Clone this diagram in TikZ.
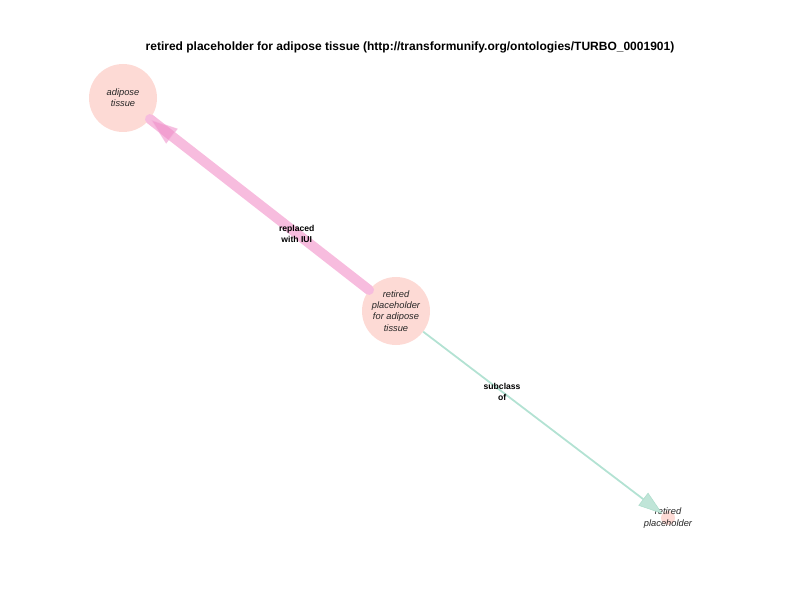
\documentclass[tikz,border=0pt]{standalone}
\usepackage{fontspec}
\setmainfont{Liberation Sans}
\usepackage{tikz}
\usetikzlibrary{arrows.meta,decorations.markings}
\definecolor{nodepink}{HTML}{FDDAD5}
\definecolor{replpink}{HTML}{F7BCDE}
\definecolor{arrpink}{HTML}{EE8AC8}
\definecolor{subteal}{HTML}{B3E2D3}
\definecolor{arrteal}{HTML}{8CD0B8}

\begin{document}
\begin{tikzpicture}[x=1pt, y=-1pt]
% Node styles ---
\tikzstyle{cls} = [circle, minimum size = 68pt, inner sep = 0pt, fill = nodepink, align = center, text = black!85, font = \fontsize{9.3}{11.2}\selectfont\itshape]
\tikzstyle{leaf} = [circle, minimum size = 14pt, inner sep = 0pt, fill = nodepink]
\tikzstyle{lab} = [align = center, font = \fontsize{8.6}{11}\selectfont\bfseries]
\tikzstyle{repl} = [draw = replpink, line width = 10pt, line cap = round, postaction = {decorate}, decoration = {markings, mark = at position -1pt with {\arrow[line width = 0.8pt, opacity = 0.55]{Triangle[length = 27pt, width = 19pt, color = white!40!arrpink, fill = arrpink]}}}]
\tikzstyle{sub} = [draw = subteal, line width = 1.8pt, -{Triangle[length = 24pt, width = 16pt, color = arrteal!70, fill = arrteal!55, line width = 0.6pt]}]
% Begin Figure ---
\useasboundingbox (0,0) rectangle (792,612);
\node at (410,47) [font = \fontsize{12}{14}\selectfont\bfseries] (title) {retired placeholder for adipose tissue (http://transformunify.org/ontologies/TURBO\_0001901)};
% Nodes
\node at (123,98) [cls] (adi) {adipose\\tissue};
\node at (396,311) [cls] (ret) {retired\\placeholder\\for adipose\\tissue};
\node at (668,518) [leaf, label = {[cls, fill = none, minimum size = 0pt]center:{retired\\placeholder}}] (rp) {};
% Paths
\path (ret) edge [repl] node [lab, pos = 0.33] {replaced\\with IUI} (adi);
\path (ret) edge [sub] node [lab, pos = 0.33] {subclass\\of} (rp);
\end{tikzpicture}
\end{document}
